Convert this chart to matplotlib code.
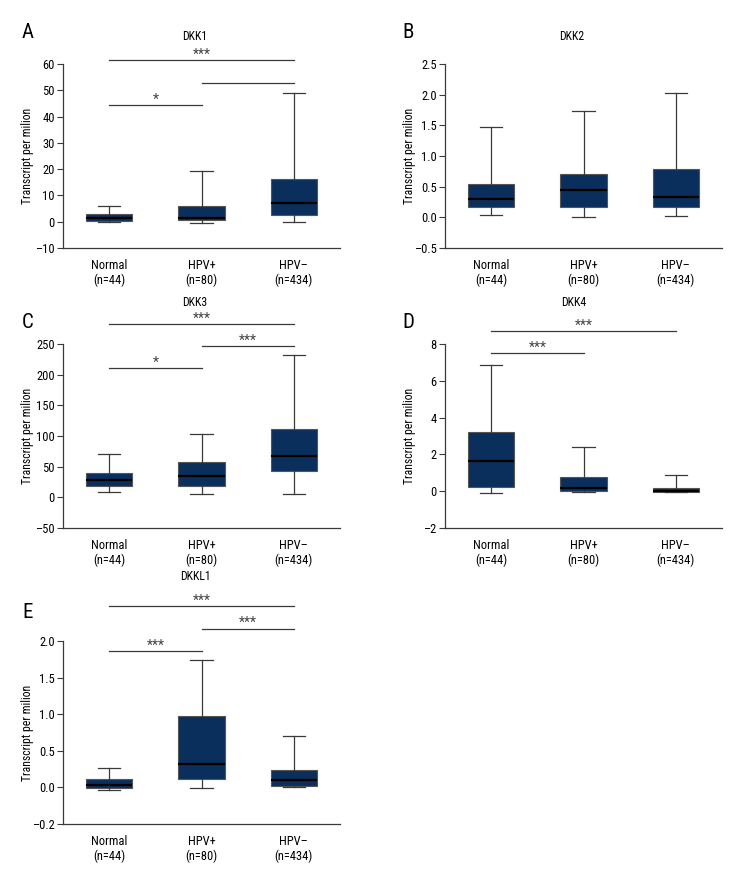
import matplotlib
matplotlib.use("Agg")
import matplotlib.pyplot as plt
from matplotlib import font_manager

# pick a narrow font if one is installed
names = {f.name for f in font_manager.fontManager.ttflist}
for fam in ["Liberation Sans Narrow", "DejaVu Sans Condensed", "Roboto Condensed", "Liberation Sans"]:
    if fam in names:
        plt.rcParams["font.family"] = [fam, "DejaVu Sans"]
        break

groups = ["Normal\n(n=44)", "HPV+\n(n=80)", "HPV\u2013\n(n=434)"]

# per group: whisker low, q1, median, q3, whisker high
dkk1 = [[0.0, 0.3, 1.5, 3.0, 6.0], [-0.3, 0.5, 1.5, 6.0, 19.2], [0.0, 2.5, 7.0, 16.2, 48.9]]
dkk2 = [[0.03, 0.17, 0.30, 0.54, 1.48], [0.0, 0.17, 0.44, 0.71, 1.74], [0.02, 0.17, 0.33, 0.78, 2.02]]
dkk3 = [[8, 19, 28, 39, 70], [5, 18, 35, 58, 103], [6, 43, 68, 112, 232]]
dkk4 = [[-0.1, 0.25, 1.65, 3.2, 6.87], [-0.07, 0.02, 0.15, 0.75, 2.38], [-0.05, -0.05, 0.0, 0.15, 0.9]]
dkkl1 = [[-0.03, -0.01, 0.03, 0.12, 0.26], [-0.01, 0.11, 0.32, 0.98, 1.74], [0.0, 0.025, 0.10, 0.24, 0.70]]

# significance bars: (group a, group b, height, label)
sig1 = [(0, 2, 61.5, "***"), (1, 2, 52.9, ""), (0, 1, 44.5, "*")]
sig2 = []
sig3 = [(0, 2, 282, "***"), (1, 2, 247, "***"), (0, 1, 211, "*")]
sig4 = [(0, 2, 8.69, "***"), (0, 1, 7.49, "***")]
sig5 = [(0, 2, 2.48, "***"), (1, 2, 2.17, "***"), (0, 1, 1.86, "***")]

W, H = 744, 876
BOX = "#0b2f5c"
LINE = "#3a3a3a"

panels = [
    # title, letter, data, sig, ylim, yticks, yticklabels, axes rect px (left, top, right, bottom), title xy, letter xy
    ("DKK1", "A", dkk1, sig1, (-10, 60), [-10, 0, 10, 20, 30, 40, 50, 60],
     ["\u201310", "0", "10", "20", "30", "40", "50", "60"],
     (63, 64, 340, 248), (195, 37), (28, 33)),
    ("DKK2", "B", dkk2, sig2, (-0.5, 2.5), [-0.5, 0, 0.5, 1.0, 1.5, 2.0, 2.5],
     ["\u20130.5", "0.0", "0.5", "1.0", "1.5", "2.0", "2.5"],
     (445, 64, 722, 248), (572, 37), (408, 33)),
    ("DKK3", "C", dkk3, sig3, (-50, 250), [-50, 0, 50, 100, 150, 200, 250],
     ["\u201350", "0", "50", "100", "150", "200", "250"],
     (63, 344, 340, 528), (195, 303), (28, 323)),
    ("DKK4", "D", dkk4, sig4, (-2, 8), [-2, 0, 2, 4, 6, 8],
     ["\u20132", "0", "2", "4", "6", "8"],
     (445, 344, 722, 528), (574, 303), (408, 323)),
    ("DKKL1", "E", dkkl1, sig5, (-0.5, 2.0), [-0.5, 0, 0.5, 1.0, 1.5, 2.0],
     ["\u20130.2", "0.0", "0.5", "1.0", "1.5", "2.0"],
     (63, 641, 340, 824), (195, 577), (28, 612)),
]

fig = plt.figure(figsize=(W / 100, H / 100), dpi=100)

for title, letter, data, sig, ylim, yticks, ylabels, rect, txy, lxy in panels:
    l, t, r, b = rect
    ax = fig.add_axes([l / W, 1 - b / H, (r - l) / W, (b - t) / H])
    stats = []
    for g, s in zip(groups, data):
        stats.append({"whislo": s[0], "q1": s[1], "med": s[2], "q3": s[3], "whishi": s[4],
                      "fliers": [], "label": g})
    ax.bxp(stats, positions=[0, 1, 2], widths=0.5, patch_artist=True, showfliers=False,
           boxprops=dict(facecolor=BOX, edgecolor="#555555", linewidth=0.8),
           medianprops=dict(color="black", linewidth=1.6),
           whiskerprops=dict(color=LINE, linewidth=0.9),
           capprops=dict(color=LINE, linewidth=0.9),
           capwidths=0.24)
    ax.set_xlim(-0.5, 2.5)
    ax.set_ylim(*ylim)
    ax.set_yticks(yticks)
    ax.set_yticklabels(ylabels)
    ax.set_xticks([0, 1, 2])
    ax.set_xticklabels(groups, fontsize=9, linespacing=1.15)
    ax.tick_params(axis="x", length=0, pad=8)
    ax.tick_params(axis="y", length=4, width=0.8, color=LINE, labelsize=9, pad=2)
    for sp in ["top", "right"]:
        ax.spines[sp].set_visible(False)
    for sp in ["left", "bottom"]:
        ax.spines[sp].set_color(LINE)
        ax.spines[sp].set_linewidth(0.9)
    ax.set_ylabel("Transcript per milion", fontsize=8.5)
    ax.yaxis.set_label_coords(-0.105, 0.5)

    for a, c, y, lab in sig:
        ax.plot([a, c], [y, y], color=LINE, linewidth=0.9, clip_on=False)
        if lab:
            ax.annotate(lab, xy=((a + c) / 2, y), xytext=(0, 1), textcoords="offset points",
                        ha="center", va="baseline", fontsize=10, color="#444444",
                        annotation_clip=False)

    fig.text(txy[0] / W, 1 - txy[1] / H, title, ha="center", va="center", fontsize=8.5)
    fig.text(lxy[0] / W, 1 - lxy[1] / H, letter, ha="center", va="center", fontsize=15)

fig.savefig("out.png", dpi=100)
